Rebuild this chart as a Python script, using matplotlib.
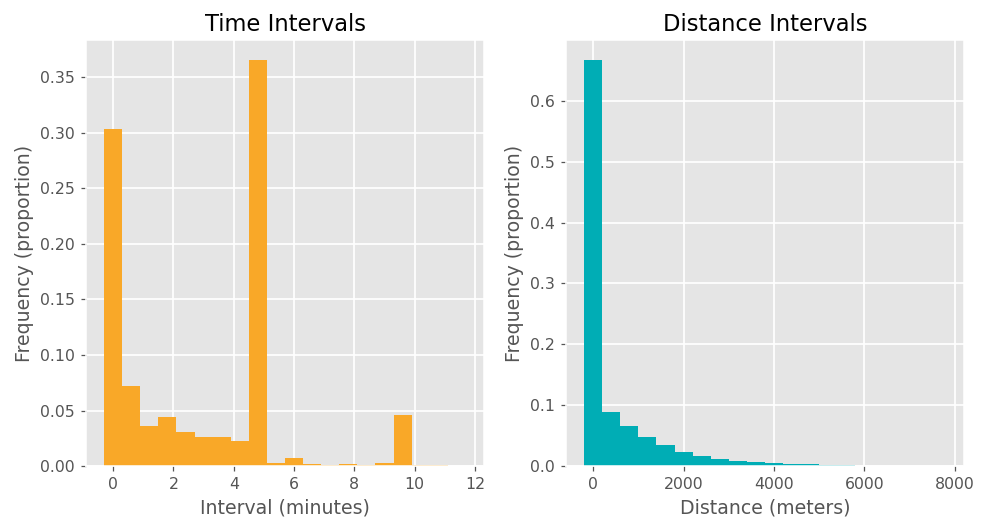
import numpy as np
import matplotlib
matplotlib.use("Agg")
import matplotlib.pyplot as plt

plt.style.use("ggplot")

# ---------- data ----------
# time intervals, minutes: 20 bins of 0.6 starting at -0.3
time_edges = np.round(np.arange(-0.3, 11.7 + 0.001, 0.6), 2)
time_freq = [0.303, 0.0718, 0.0359, 0.044, 0.0305, 0.026, 0.026, 0.0224,
             0.365, 0.0027, 0.0072, 0.0018, 0.0009, 0.0018, 0.0009, 0.0027,
             0.0458, 0.0009, 0.0009, 0.0]

# distance intervals, meters: 20 bins of 400 starting at -200
dist_edges = np.arange(-200, 7800 + 1, 400)
dist_freq = [0.666, 0.0884, 0.0655, 0.0475, 0.0344, 0.0229, 0.0164, 0.0115,
             0.0082, 0.0065, 0.0049, 0.0033, 0.0033, 0.0016, 0.0016, 0.0,
             0.0, 0.0, 0.0, 0.0]

time_color = "#F9A828"
dist_color = "#00ADB5"

DPI = 113
fig = plt.figure(figsize=(989 / DPI, 518 / DPI), dpi=DPI)
ax1 = fig.add_axes([0.087, 0.100, 0.4024, 0.8224])
ax2 = fig.add_axes([0.5723, 0.100, 0.4024, 0.8224])


def draw_hist(ax, edges, freq, color):
    ax.bar(edges[:-1], freq, width=np.diff(edges), align="edge",
           color=color, linewidth=0)


draw_hist(ax1, time_edges, time_freq, time_color)
ax1.set_title("Time Intervals", color="black")
ax1.set_xlabel("Interval (minutes)")
ax1.set_ylabel("Frequency (proportion)")
ax1.set_xticks(np.arange(0, 13, 2))
ax1.set_yticks(np.arange(0, 0.36, 0.05))
ax1.yaxis.set_major_formatter(matplotlib.ticker.FormatStrFormatter("%.2f"))

draw_hist(ax2, dist_edges, dist_freq, dist_color)
ax2.set_title("Distance Intervals", color="black")
ax2.set_xlabel("Distance (meters)")
ax2.set_ylabel("Frequency (proportion)")
ax2.set_xticks(np.arange(0, 8001, 2000))
ax2.yaxis.set_major_formatter(matplotlib.ticker.FormatStrFormatter("%.1f"))

for ax in (ax1, ax2):
    ax.grid(True, color="white", linewidth=1.1)
    ax.set_axisbelow(True)

fig.savefig("out.png", dpi=DPI)
